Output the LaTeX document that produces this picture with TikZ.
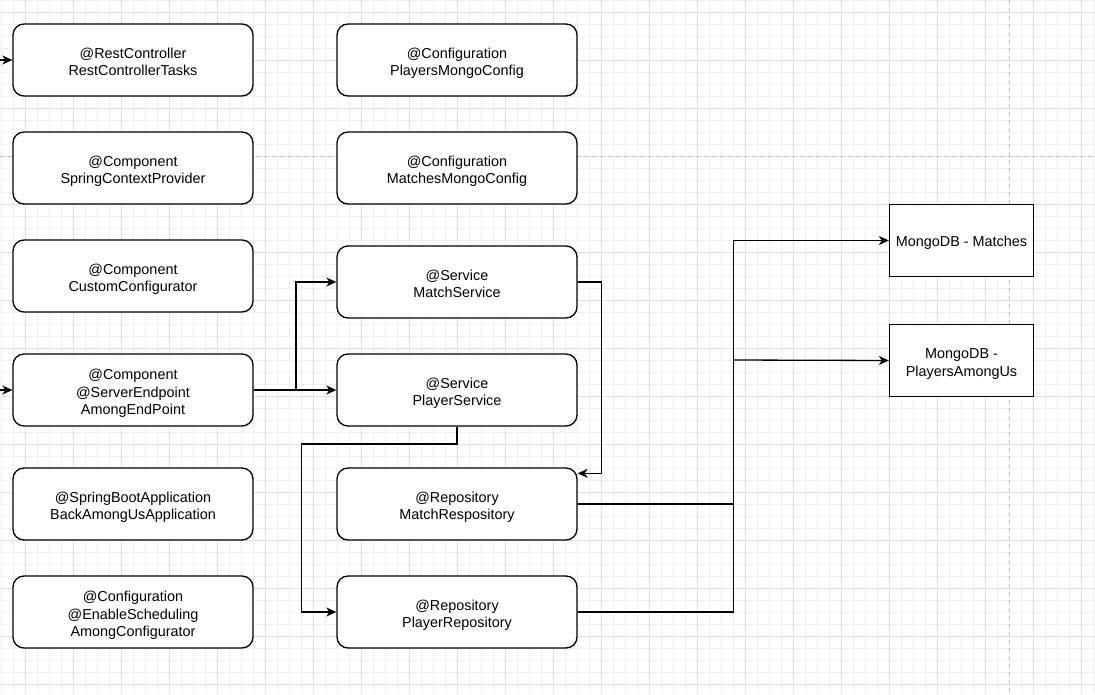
\documentclass[tikz,border=0pt]{standalone}
\usepackage{fontspec}
\setmainfont{Liberation Sans}
\usetikzlibrary{arrows.meta,calc}
\definecolor{gridminor}{HTML}{F0F0F0}
\definecolor{gridmajor}{HTML}{E0E0E0}
\definecolor{pagebrk}{HTML}{C0C0C0}
\newcommand\bxt[1]{\rule{0pt}{17pt}#1\rule[-3pt]{0pt}{0pt}}
\newcommand\bxs[1]{\rule{0pt}{14pt}#1\rule[-3pt]{0pt}{0pt}}
\begin{document}
\begin{tikzpicture}[x=1pt,y=-1pt,
  txt/.style={align=center,inner sep=0pt,
    font=\fontsize{14.4pt}{17.5pt}\selectfont},
  rbox/.style={txt,draw=black,line width=1.3pt,rounded corners=11pt,fill=white,
    minimum width=240pt,minimum height=72pt},
  sbox/.style={txt,draw=black,line width=1.3pt,fill=white,
    minimum width=144pt,minimum height=72pt},
  conn/.style={draw=black,line width=1.3pt,-{Stealth[length=10pt,width=9pt,inset=3pt]}},
  line/.style={draw=black,line width=1.3pt}]
\useasboundingbox (0,0) rectangle (1095,694);
\fill[white] (0,0) rectangle (1095,694);
% grid
\foreach \i in {0,...,91} {\draw[gridminor,line width=0.8pt] ({1.7+12*\i},0) -- ({1.7+12*\i},694);}
\foreach \j in {0,...,58} {\draw[gridminor,line width=0.8pt] (0,{0.3+12*\j}) -- (1095,{0.3+12*\j});}
\foreach \i in {0,...,22} {\draw[gridmajor,line width=0.8pt] ({25.7+48*\i},0) -- ({25.7+48*\i},694);}
\foreach \j in {0,...,14} {\draw[gridmajor,line width=0.8pt] (0,{12.3+48*\j}) -- (1095,{12.3+48*\j});}
% page break lines
\draw[pagebrk,line width=0.8pt,dash pattern=on 4pt off 4pt] (0,156.3) -- (1095,156.3);
\draw[pagebrk,line width=0.8pt,dash pattern=on 4pt off 4pt] (1009.5,0) -- (1009.5,694);
% left column
\node[rbox] (rc) at (133,60) {\bxt{@RestController\\RestControllerTasks}};
\node[rbox] (scp) at (133,168) {\bxt{@Component\\SpringContextProvider}};
\node[rbox] (cc) at (133,276) {\bxt{@Component\\CustomConfigurator}};
\node[rbox] (aep) at (133,390) {\bxt{@Component\\@ServerEndpoint\\AmongEndPoint}};
\node[rbox] (bau) at (133,504) {\bxt{@SpringBootApplication\\BackAmongUsApplication}};
\node[rbox] (ac) at (133,612) {\bxt{@Configuration\\@EnableScheduling\\AmongConfigurator}};
% middle column
\node[rbox] (pmc) at (457,60) {\bxt{@Configuration\\PlayersMongoConfig}};
\node[rbox] (mmc) at (457,168) {\bxt{@Configuration\\MatchesMongoConfig}};
\node[rbox] (ms) at (457,282) {\bxt{@Service\\MatchService}};
\node[rbox] (ps) at (457,390) {\bxt{@Service\\PlayerService}};
\node[rbox] (mr) at (457,504) {\bxt{@Repository\\MatchRespository}};
\node[rbox] (pr) at (457,612) {\bxt{@Repository\\PlayerRepository}};
% databases
\node[sbox] (dbm) at (961.5,240.5) {\bxs{MongoDB - Matches}};
\node[sbox] (dbp) at (961.5,360.5) {\bxt{MongoDB -\\PlayersAmongUs}};
% free ends
\coordinate (in1) at (0,60);
\coordinate (in2) at (0,390);
% connectors
\draw[conn] (in1) -- (rc.west);
\draw[conn] (in2) -- (aep.west);
\draw[conn] (aep.east) -- (ps.west);
\draw[conn] (aep.east) -- (296,390) |- (ms.west);
\draw[conn] (ms.east) -- (601.5,282) |- ($(mr.north east)+(0,6)$);
\draw[conn] (ps.south) -- (457,444) -| (301.5,520) |- (pr.west);
\draw[conn] (mr.east) -- (733.5,504) |- (dbm.west);
\draw[conn] (733.5,360) -- (dbp.west);
\draw[line] (pr.east) -| (733.5,504);
\end{tikzpicture}
\end{document}
